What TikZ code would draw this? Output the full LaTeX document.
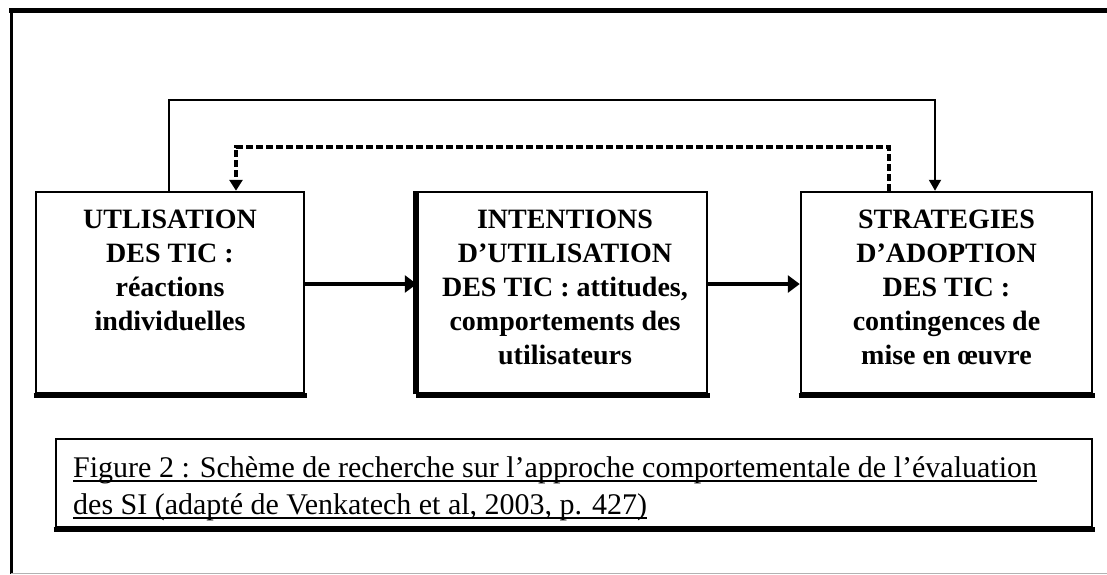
\documentclass[tikz,border=0pt]{standalone}
\usepackage{fontspec}
\setmainfont{Liberation Serif}
\usetikzlibrary{arrows.meta,calc}
\newcommand{\capline}[1]{\setbox0\hbox{#1}\rlap{\rule[-4.5pt]{\wd0}{1.8pt}}\box0}
\begin{document}
\begin{tikzpicture}[x=1pt,y=1pt,
  boxnode/.style={draw, line width=2.5pt, inner sep=0pt},
  boxtext/.style={anchor=north, align=center, inner sep=0pt,
    font=\fontsize{28}{34}\selectfont\bfseries},
  captext/.style={anchor=north west, align=left, inner sep=0pt,
    font=\fontsize{30}{37}\selectfont},
  shadowline/.style={line width=5pt, shorten <=-1.25pt, shorten >=-1.25pt},
  harrow/.style={line width=4pt, -{Triangle[length=12pt,width=17pt]}},
  varrow/.style={line width=2pt, -{Triangle[length=11pt,width=12pt]}},
  darrow/.style={line width=3.5pt, dash pattern=on 7pt off 3pt,
    -{Triangle[length=11pt,width=13pt]}}
]
\useasboundingbox (0,0) rectangle (1107,-574);
% outer frame
\draw[line width=5pt] (9,-10) -- (1107,-10);
\draw[line width=2.5pt] (11.5,-8) -- (11.5,-574);
\draw[black!30, line width=1pt] (11,-573) -- (1107,-573);

% boxes
\node[boxnode, minimum width=268, minimum height=201] (b1) at (170,-292.5) {};
\node[boxnode, minimum width=289, minimum height=201] (b2) at (562.5,-292.5) {};
\node[boxnode, minimum width=291, minimum height=201] (b3) at (946.5,-292.5) {};
\node[boxnode, minimum width=1036, minimum height=88] (cap) at (574,-483) {};
\foreach \n in {b1,b2,b3,cap}
  \draw[shadowline] ([yshift=-1.25pt]\n.south west) -- ([yshift=-1.25pt]\n.south east);
\draw[line width=5pt] ([xshift=-1.25pt]b2.south west) -- ([xshift=-1.25pt]b2.north west);

% texts
\node[boxtext] (t1) at (170,-210) {UTLISATION\\DES TIC :\\réactions\\individuelles};
\node[boxtext] (t2) at (565,-210) {INTENTIONS\\D’UTILISATION\\DES TIC : attitudes,\\comportements des\\utilisateurs};
\node[boxtext] (t3) at (946.5,-210) {STRATEGIES\\D’ADOPTION\\DES TIC :\\contingences de\\mise en œuvre};
\node[captext] (ct) at (73,-456) {\capline{Figure 2 : Schème de recherche sur l’approche comportementale de l’évaluation}\\\capline{des SI (adapté de Venkatech et al, 2003, p. 427)}};

% connectors
\coordinate (h) at (0,-284);
\draw[harrow] (b1.east |- h) -- (b2.west |- h);
\draw[harrow] (b2.east |- h) -- (b3.west |- h);

\coordinate (s1) at (169,-100);
\coordinate (s2) at (935,-100);
\draw[varrow] (b1.north -| s1) -- (s1) -- (s2) -- (b3.north -| s2);

\coordinate (d1) at (889,-147);
\coordinate (d2) at (236,-147);
\draw[darrow] (b3.north -| d1) -- (d1) -- (d2) -- (b1.north -| d2);
\end{tikzpicture}
\end{document}
